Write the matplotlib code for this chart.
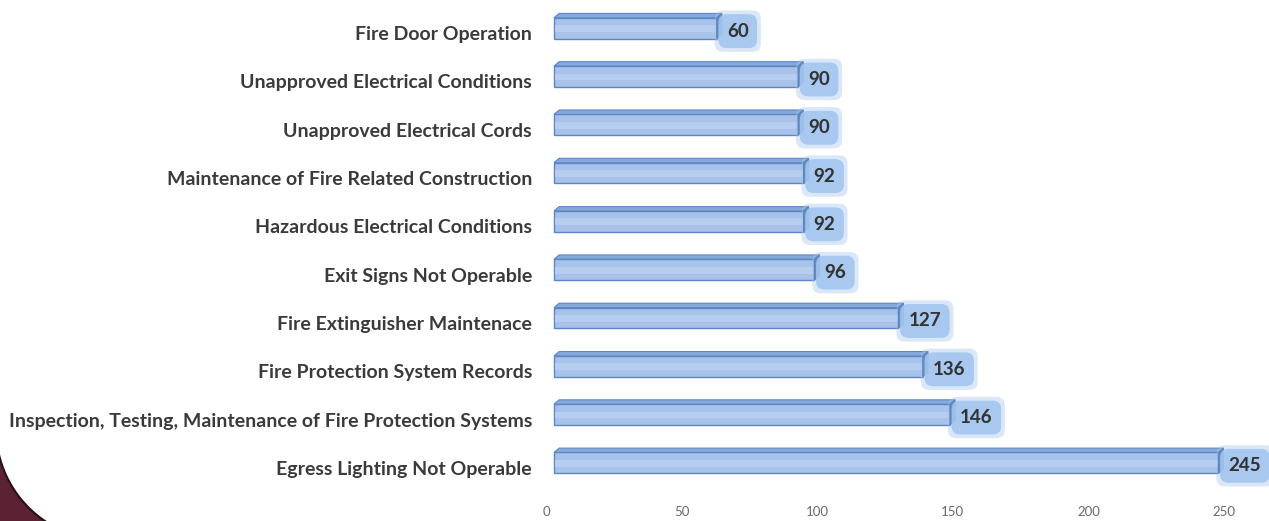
import numpy as np
import matplotlib
matplotlib.use("Agg")
import matplotlib.pyplot as plt
from matplotlib.patches import Polygon
from matplotlib.transforms import ScaledTranslation

plt.rcParams['font.family'] = ['Lato', 'DejaVu Sans']

categories = [
    "Fire Door Operation",
    "Unapproved Electrical Conditions",
    "Unapproved Electrical Cords",
    "Maintenance of Fire Related Construction",
    "Hazardous Electrical Conditions",
    "Exit Signs Not Operable",
    "Fire Extinguisher Maintenace",
    "Fire Protection System Records",
    "Inspection, Testing, Maintenance of Fire Protection Systems",
    "Egress Lighting Not Operable",
]
counts = [60, 90, 90, 92, 92, 96, 127, 136, 146, 245]
xticks = [0, 50, 100, 150, 200, 250]

W, H, DPI = 1269, 521, 100
fig = plt.figure(figsize=(W / DPI, H / DPI), dpi=DPI)
fig.patch.set_facecolor("white")

# dark rounded corner of the backdrop, bottom left
cx, cy, r = 107, 92, 111
ang = np.linspace(np.pi, 1.5 * np.pi, 80)
arc = np.column_stack([cx + r * np.cos(ang), cy + r * np.sin(ang)])
corner = np.vstack([[-20, cy], arc, [cx, -20], [-20, -20]])
corner[:, 0] /= W
corner[:, 1] /= H
fig.add_artist(Polygon(corner, closed=True, transform=fig.transFigure,
                       facecolor="#5a2232", edgecolor="#2b0f17", linewidth=1.5))

ax = fig.add_axes([546 / W, 1 - 492 / H, (1224 - 546) / W, 483 / H])
ax.set_xlim(0, 250)
ax.set_ylim(len(categories) - 0.5, -0.5)
for s in ax.spines.values():
    s.set_visible(False)

ypos = np.arange(len(categories))
ax.set_yticks(ypos)
ax.set_yticklabels(categories, fontsize=14.0, fontweight="bold", color="#3a3a3a")
ax.set_xticks(xticks)
ax.set_xticklabels([str(t) for t in xticks], fontsize=9.5, color="#6a6a6a")
ax.tick_params(axis="y", length=0, pad=10)
ax.tick_params(axis="x", length=0, pad=10)

# bars sit on a shifted plane (3-D look): shift a few pixels right and up
shift = ax.transData + ScaledTranslation(8 / DPI, 5 / DPI, fig.dpi_scale_trans)
h = 0.43
dx, dy = 1.9, 0.09

bars = ax.barh(ypos, counts, height=h, color="#a9c2e9", edgecolor="#5b86c6",
               linewidth=1.0, transform=shift, zorder=3)
for y, v in zip(ypos, counts):
    top = y - h / 2
    bot = y + h / 2
    # lighter band on the front face
    ax.add_patch(Polygon([(0.4, y - 0.06), (v, y - 0.06), (v, y + 0.08), (0.4, y + 0.08)],
                         closed=True, facecolor="#b6cdef", edgecolor="none",
                         transform=shift, zorder=3.5))
    ax.add_patch(Polygon([(0, top), (v, top), (v + dx, top - dy), (dx, top - dy)],
                         closed=True, facecolor="#86a9db", edgecolor="#5b86c6",
                         linewidth=0.8, transform=shift, zorder=4))
    ax.add_patch(Polygon([(v, top), (v + dx, top - dy), (v + dx, bot - dy), (v, bot)],
                         closed=True, facecolor="#3467ad", edgecolor="#2d5c9e",
                         linewidth=0.8, transform=shift, zorder=4))

# value labels in soft blue boxes
lab_trans = ax.transData + ScaledTranslation(13 / DPI, 2 / DPI, fig.dpi_scale_trans)
for y, v in zip(ypos, counts):
    for pad, alpha in ((0.65, 0.4), (0.45, 0.9)):
        ax.text(v + dx, y, str(v), transform=lab_trans, ha="left", va="center",
                fontsize=13.5, fontweight="bold", color="#333333", zorder=5,
                bbox=dict(boxstyle=f"round,pad={pad},rounding_size=0.45",
                          facecolor="#a3c5ee", edgecolor="none", alpha=alpha),
                clip_on=False)

fig.savefig("out.png", dpi=DPI, facecolor="white")
